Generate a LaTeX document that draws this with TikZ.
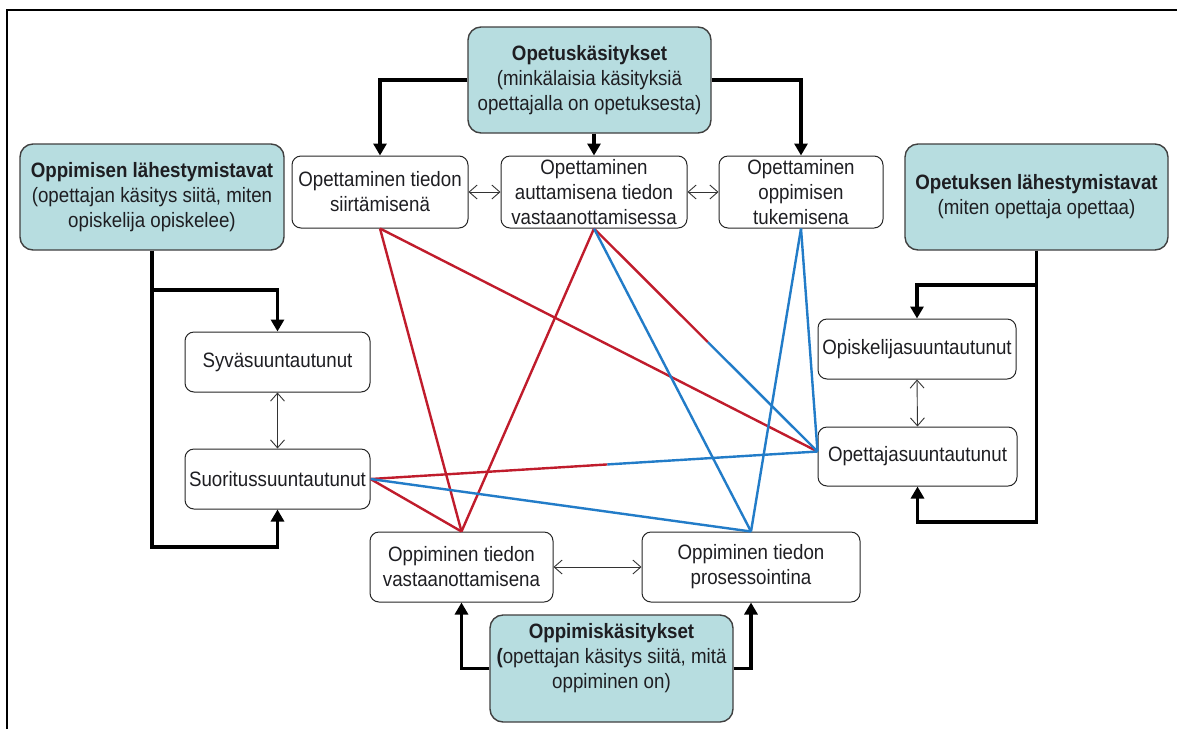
\documentclass[tikz,border=0pt]{standalone}
\usepackage{fontspec}
\setmainfont{Liberation Sans}[FakeStretch=0.9]
\usetikzlibrary{arrows.meta,calc}
\definecolor{tealfill}{RGB}{183,221,224}
\definecolor{txt}{RGB}{30,30,34}
\definecolor{lred}{RGB}{192,28,44}
\definecolor{lblue}{RGB}{34,124,200}
\begin{document}
\begin{tikzpicture}[x=1pt,y=-1pt,
  box/.style={draw=black!85, line width=1pt, rounded corners=9pt, fill=white,
    align=center, inner sep=0pt, text=txt, font=\fontsize{20.8}{25}\selectfont},
  hbox/.style={box, fill=tealfill, draw=black!75, line width=1.4pt, rounded corners=13pt},
  flowline/.style={line width=3.8pt, draw=black, -{Triangle[length=12pt,width=13pt]}},
  dbl/.style={line width=0.9pt, draw=black!80,
    {Straight Barb[length=8pt,width=14pt]}-{Straight Barb[length=8pt,width=14pt]}},
  redl/.style={line width=2.4pt, draw=lred},
  bluel/.style={line width=2.4pt, draw=lblue}]
\useasboundingbox (0,0) rectangle (1177,729);
\fill[white] (0,0) rectangle (1177,729);
\draw[line width=2pt] (7,729) -- (7,10) -- (1177,10);

% nodes
\node[hbox, minimum width=243pt, minimum height=106pt] (opk) at (589.5,80)
  {{\bfseries Opetuskäsitykset}\\(minkälaisia käsityksiä\\opettajalla on opetuksesta)};
\node[hbox, minimum width=264pt, minimum height=106pt] (olt) at (152,197)
  {{\bfseries Oppimisen lähestymistavat}\\(opettajan käsitys siitä, miten\\opiskelija opiskelee)};
\node[hbox, minimum width=263pt, minimum height=106pt] (olh) at (1036.5,197)
  {{\bfseries Opetuksen lähestymistavat}\\(miten opettaja opettaa)};
\node[box, minimum width=176pt, minimum height=72pt] (t1) at (380,192)
  {Opettaminen tiedon\\siirtämisenä};
\node[box, minimum width=186pt, minimum height=72pt] (t2) at (594,192)
  {Opettaminen\\auttamisena tiedon\\vastaanottamisessa};
\node[box, minimum width=164pt, minimum height=72pt] (t3) at (801,192)
  {Opettaminen\\oppimisen\\tukemisena};
\node[box, minimum width=185pt, minimum height=60pt] (syv) at (277.5,362) {Syväsuuntautunut};
\node[box, minimum width=185pt, minimum height=60pt] (suo) at (277.5,479) {Suoritussuuntautunut};
\node[box, minimum width=198pt, minimum height=60pt] (opi) at (917,349) {Opiskelijasuuntautunut};
\node[box, minimum width=199pt, minimum height=59pt] (ope) at (917.5,456.5) {Opettajasuuntautunut};
\node[box, minimum width=183pt, minimum height=70pt] (vas) at (461.5,567)
  {Oppiminen tiedon\\vastaanottamisena};
\node[box, minimum width=218pt, minimum height=70pt] (pro) at (751,567)
  {Oppiminen tiedon\\prosessointina};
\node[hbox, minimum width=243pt, minimum height=107pt] (oppk) at (611.5,668.5)
  {{\bfseries Oppimiskäsitykset}\\{\bfseries(}opettajan käsitys siitä, mitä\\oppiminen on)\\[-8pt]\strut};

% coloured connections
\coordinate (opeIn) at ([yshift=5pt]ope.west);
\draw[redl] (t1.south) -- (vas.north);
\draw[redl] (t1.south) -- (opeIn);
\draw[redl] (t2.south) -- (vas.north);
\draw[redl] (t2.south) -- ($(t2.south)!0.51!(opeIn)$);
\draw[bluel] ($(t2.south)!0.51!(opeIn)$) -- (opeIn);
\draw[bluel] (t2.south) -- (pro.north);
\draw[bluel] (t3.south) -- (pro.north);
\draw[bluel] (t3.south) -- (opeIn);
\draw[redl] (suo.east) -- ($(suo.east)!0.53!(opeIn)$);
\draw[bluel] ($(suo.east)!0.53!(opeIn)$) -- (opeIn);
\draw[redl] (suo.east) -- (vas.north);
\draw[bluel] (suo.east) -- (pro.north);

% thin double arrows
\draw[dbl] (t1.east) -- (t2.west);
\draw[dbl] (t2.east) -- (t3.west);
\draw[dbl] (syv.south) -- (suo.north);
\draw[dbl] (opi.south) -- (ope.north);
\draw[dbl] (vas.east) -- (pro.west);

% thick flow arrows
\draw[flowline] (opk.west) -| (t1.north);
\draw[flowline] (opk.east) -| (t3.north);
\draw[flowline] (opk.south -| t2.north) -- (t2.north);

\coordinate (lj) at (olt.south |- 0,290);
\coordinate (lb) at (olt.south |- 0,547);
\draw[flowline] (olt.south) -- (lb) -| (suo.south);
\draw[flowline] (lj) -| (syv.north);

\coordinate (rj) at (olh.south |- 0,285);
\coordinate (rb) at (olh.south |- 0,522);
\draw[flowline] (olh.south) -- (rb) -| (ope.south);
\draw[flowline] (rj) -| (opi.north);

\draw[flowline] (oppk.west) -| (vas.south);
\draw[flowline] (oppk.east) -| (pro.south);
\end{tikzpicture}
\end{document}
